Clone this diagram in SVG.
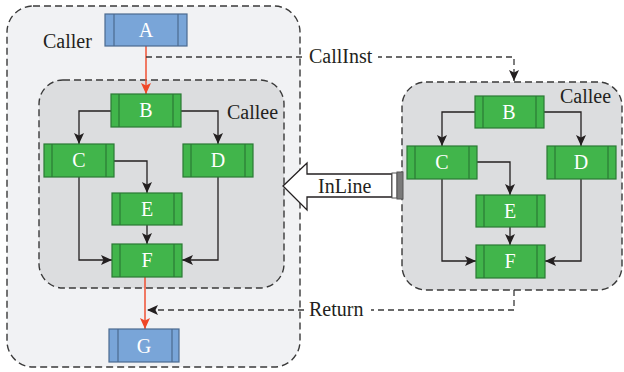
<svg xmlns="http://www.w3.org/2000/svg" width="624" height="372" viewBox="0 0 624 372">
  <defs>
    <style>
      .lbl { font-family: "Liberation Serif", "DejaVu Serif", serif; font-size: 20px; fill: #231f20; }
      .nlbl { font-family: "Liberation Serif", "DejaVu Serif", serif; font-size: 20px; fill: #ffffff; text-anchor: middle; }
      .grn { fill: #41b54b; stroke: #2a7a34; stroke-width: 1.2; }
      .blu { fill: #79a5d8; stroke: #4b6a8f; stroke-width: 1.2; }
      .gl { stroke: #2a7a34; stroke-width: 1.2; }
      .bl { stroke: #4b6a8f; stroke-width: 1.2; }
      .box { stroke: #3a3a3a; stroke-width: 1.4; stroke-dasharray: 7 4; }
      .edge { fill: none; stroke: #231f20; stroke-width: 1.3; }
      .red { fill: none; stroke: #ef4626; stroke-width: 1.4; }
      .dash { fill: none; stroke: #3a3a3a; stroke-width: 1.3; stroke-dasharray: 6 4; }
    </style>
    <marker id="ah" markerWidth="12" markerHeight="12" refX="11" refY="5" orient="auto" markerUnits="userSpaceOnUse">
      <path d="M0,0 L11,5 L0,10 L2.5,5 z" fill="#231f20"/>
    </marker>
    <marker id="ahr" markerWidth="12" markerHeight="12" refX="11" refY="5" orient="auto" markerUnits="userSpaceOnUse">
      <path d="M0,0 L11,5 L0,10 L2.5,5 z" fill="#ef4626"/>
    </marker>
  </defs>

  <rect width="624" height="372" fill="#ffffff"/>

  <!-- containers -->
  <g id="caller">
    <rect class="box" x="7" y="6" width="293" height="361" rx="26" fill="#f1f2f4"/>
    <text class="lbl" x="43" y="48">Caller</text>
  </g>
  <g id="callee-inlined">
    <rect class="box" x="39" y="80" width="245" height="208" rx="24" fill="#dcdddf"/>
    <text class="lbl" x="227" y="119">Callee</text>
  </g>
  <g id="callee">
    <rect class="box" x="402" y="82" width="220" height="208" rx="24" fill="#dcdddf"/>
    <text class="lbl" x="560" y="103">Callee</text>
  </g>

  <!-- connectors -->
  <g id="connectors">
    <!-- caller flow -->
    <path class="red" d="M146,46 V94" marker-end="url(#ahr)"/>
    <path class="red" d="M145,277 V329" marker-end="url(#ahr)"/>
    <!-- inlined callee flow -->
    <path class="edge" d="M111,111 H79 V144" marker-end="url(#ah)"/>
    <path class="edge" d="M181,111 H218 V144" marker-end="url(#ah)"/>
    <path class="edge" d="M114,161 H147 V193" marker-end="url(#ah)"/>
    <path class="edge" d="M147,225 V244" marker-end="url(#ah)"/>
    <path class="edge" d="M79,177 V260 H112" marker-end="url(#ah)"/>
    <path class="edge" d="M218,177 V260 H182" marker-end="url(#ah)"/>
    <!-- callee flow -->
    <path class="edge" d="M475,112 H442 V146" marker-end="url(#ah)"/>
    <path class="edge" d="M544,112 H581 V146" marker-end="url(#ah)"/>
    <path class="edge" d="M477,162 H510 V195" marker-end="url(#ah)"/>
    <path class="edge" d="M510,227 V245" marker-end="url(#ah)"/>
    <path class="edge" d="M442,179 V261 H476" marker-end="url(#ah)"/>
    <path class="edge" d="M581,179 V261 H545" marker-end="url(#ah)"/>
    <!-- call / return -->
    <path class="dash" d="M146,57 H514 V81" marker-end="url(#ah)"/>
    <path class="dash" d="M514,290 V310 H147" marker-end="url(#ah)"/>
    <rect x="305" y="46" width="73" height="22" fill="#ffffff"/>
    <text class="lbl" x="309" y="63">CallInst</text>
    <rect x="305" y="299" width="66" height="22" fill="#ffffff"/>
    <text class="lbl" x="309" y="316">Return</text>
    <!-- inline arrow -->
    <g id="inline">
      <polygon points="283,186 307,163 307,174 392,174 392,197 307,197 307,210" fill="#ffffff" stroke="#231f20" stroke-width="1.3"/>
      <rect x="392" y="173" width="5" height="25" fill="#ffffff" stroke="#555" stroke-width="1"/>
      <rect x="397" y="172" width="6" height="27" fill="#7a7a7a" stroke="#555" stroke-width="1"/>
      <text class="lbl" x="318" y="193">InLine</text>
    </g>
  </g>

  <!-- caller nodes -->
  <g id="nA">
    <rect class="blu" x="105" y="14" width="82" height="32"/>
    <line class="bl" x1="114" y1="14" x2="114" y2="46"/>
    <line class="bl" x1="178" y1="14" x2="178" y2="46"/>
    <text class="nlbl" x="146" y="37">A</text>
  </g>
  <g id="nG">
    <rect class="blu" x="109" y="329" width="70" height="33"/>
    <line class="bl" x1="118" y1="329" x2="118" y2="362"/>
    <line class="bl" x1="172" y1="329" x2="172" y2="362"/>
    <text class="nlbl" x="144" y="353">G</text>
  </g>

  <!-- inlined callee nodes -->
  <g id="nB1">
    <rect class="grn" x="111" y="94" width="70" height="33"/>
    <line class="gl" x1="119" y1="94" x2="119" y2="127"/>
    <line class="gl" x1="173" y1="94" x2="173" y2="127"/>
    <text class="nlbl" x="146" y="117">B</text>
  </g>
  <g id="nC1">
    <rect class="grn" x="44" y="144" width="70" height="33"/>
    <line class="gl" x1="52" y1="144" x2="52" y2="177"/>
    <line class="gl" x1="106" y1="144" x2="106" y2="177"/>
    <text class="nlbl" x="79" y="167">C</text>
  </g>
  <g id="nD1">
    <rect class="grn" x="183" y="144" width="70" height="33"/>
    <line class="gl" x1="191" y1="144" x2="191" y2="177"/>
    <line class="gl" x1="245" y1="144" x2="245" y2="177"/>
    <text class="nlbl" x="218" y="167">D</text>
  </g>
  <g id="nE1">
    <rect class="grn" x="112" y="193" width="70" height="32"/>
    <line class="gl" x1="120" y1="193" x2="120" y2="225"/>
    <line class="gl" x1="174" y1="193" x2="174" y2="225"/>
    <text class="nlbl" x="147" y="216">E</text>
  </g>
  <g id="nF1">
    <rect class="grn" x="112" y="244" width="70" height="33"/>
    <line class="gl" x1="120" y1="244" x2="120" y2="277"/>
    <line class="gl" x1="174" y1="244" x2="174" y2="277"/>
    <text class="nlbl" x="147" y="267">F</text>
  </g>

  <!-- callee nodes -->
  <g id="nB2">
    <rect class="grn" x="475" y="96" width="69" height="32"/>
    <line class="gl" x1="483" y1="96" x2="483" y2="128"/>
    <line class="gl" x1="536" y1="96" x2="536" y2="128"/>
    <text class="nlbl" x="509" y="119">B</text>
  </g>
  <g id="nC2">
    <rect class="grn" x="407" y="146" width="70" height="33"/>
    <line class="gl" x1="415" y1="146" x2="415" y2="179"/>
    <line class="gl" x1="469" y1="146" x2="469" y2="179"/>
    <text class="nlbl" x="442" y="169">C</text>
  </g>
  <g id="nD2">
    <rect class="grn" x="547" y="146" width="69" height="33"/>
    <line class="gl" x1="555" y1="146" x2="555" y2="179"/>
    <line class="gl" x1="608" y1="146" x2="608" y2="179"/>
    <text class="nlbl" x="581" y="169">D</text>
  </g>
  <g id="nE2">
    <rect class="grn" x="476" y="195" width="69" height="32"/>
    <line class="gl" x1="484" y1="195" x2="484" y2="227"/>
    <line class="gl" x1="537" y1="195" x2="537" y2="227"/>
    <text class="nlbl" x="510" y="218">E</text>
  </g>
  <g id="nF2">
    <rect class="grn" x="476" y="245" width="69" height="33"/>
    <line class="gl" x1="484" y1="245" x2="484" y2="278"/>
    <line class="gl" x1="537" y1="245" x2="537" y2="278"/>
    <text class="nlbl" x="510" y="268">F</text>
  </g>
</svg>
